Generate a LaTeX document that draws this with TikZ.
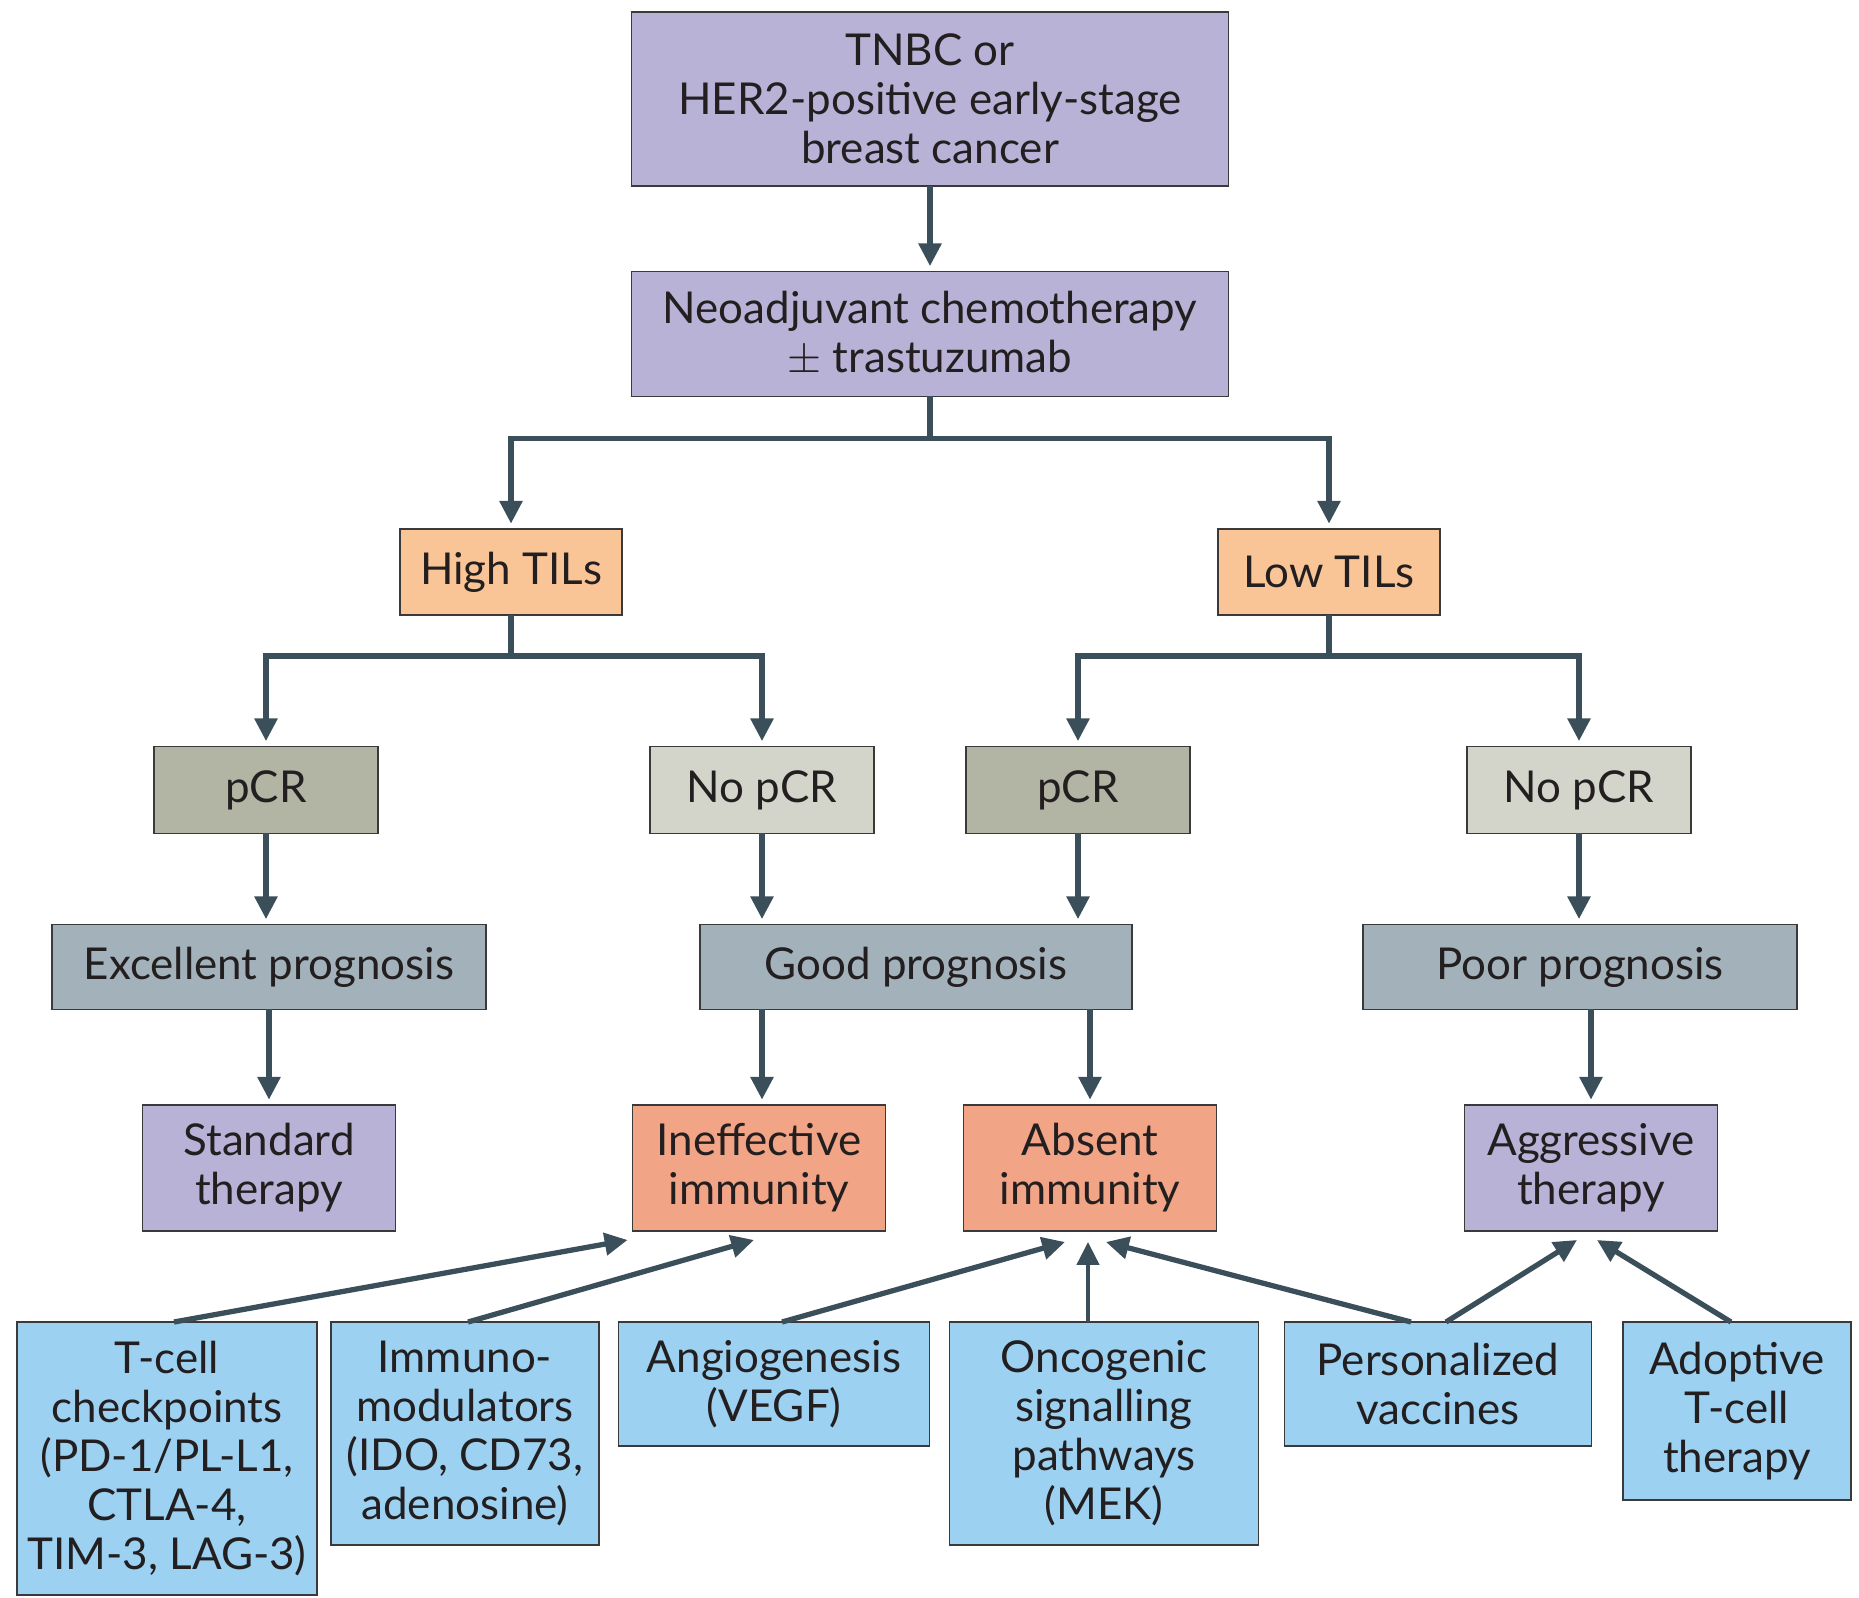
\documentclass[tikz,border=0pt]{standalone}
\usepackage{fontspec}
\setmainfont{Lato}
\usetikzlibrary{arrows.meta,calc}
\definecolor{lilac}{HTML}{B8B3D6}
\definecolor{tils}{HTML}{F9C597}
\definecolor{pcrdark}{HTML}{B2B4A4}
\definecolor{pcrlight}{HTML}{D3D4CA}
\definecolor{progn}{HTML}{A3B1BB}
\definecolor{salmon}{HTML}{F2A486}
\definecolor{skyblue}{HTML}{9CD1F1}
\definecolor{arrowc}{HTML}{3B4F5B}
\definecolor{boxline}{HTML}{3A3A3A}
\definecolor{txt}{HTML}{231F20}

\begin{document}
\begin{tikzpicture}[x=0.02cm,y=-0.02cm,
	box/.style={draw=boxline,line width=0.8pt,inner sep=0,outer sep=0,align=center,text=txt,font=\fontsize{25}{27.9}\selectfont},
	arr/.style={draw=arrowc,line width=3.3pt,line join=miter,shorten >=3pt,-{Triangle[length=13pt,width=12.5pt]}},
	diag/.style={draw=arrowc,line width=3pt,-{Triangle[length=13pt,width=12.5pt]}}]
	\useasboundingbox (0,0) rectangle (1859,1598);
	\node[box,fill=lilac,minimum width=11.94cm,minimum height=3.48cm] (top) at (930,99) {TNBC or\\HER2-positive early-stage\\breast cancer};
	\node[box,fill=lilac,minimum width=11.94cm,minimum height=2.5cm] (neo) at (930,334) {Neoadjuvant chemotherapy\\$\pm$ trastuzumab};
	\node[box,fill=tils,minimum width=4.44cm,minimum height=1.72cm] (high) at (511,572) {High TILs};
	\node[box,fill=tils,minimum width=4.44cm,minimum height=1.72cm] (low) at (1329,572) {Low TILs};
	\node[box,fill=pcrdark,minimum width=4.48cm,minimum height=1.74cm] (pcrA) at (266,790) {pCR};
	\node[box,fill=pcrlight,minimum width=4.48cm,minimum height=1.74cm] (nopcrA) at (762,790) {No pCR};
	\node[box,fill=pcrdark,minimum width=4.48cm,minimum height=1.74cm] (pcrB) at (1078,790) {pCR};
	\node[box,fill=pcrlight,minimum width=4.48cm,minimum height=1.74cm] (nopcrB) at (1579,790) {No pCR};
	\node[box,fill=progn,minimum width=8.68cm,minimum height=1.7cm] (excel) at (269,967) {Excellent prognosis};
	\node[box,fill=progn,minimum width=8.64cm,minimum height=1.7cm] (good) at (916,967) {Good prognosis};
	\node[box,fill=progn,minimum width=8.68cm,minimum height=1.7cm] (poor) at (1580,967) {Poor prognosis};
	\node[box,fill=lilac,minimum width=5.06cm,minimum height=2.52cm] (std) at (269,1168) {Standard\\therapy};
	\node[box,fill=salmon,minimum width=5.06cm,minimum height=2.52cm] (ineff) at (759,1168) {Ineffective\\immunity};
	\node[box,fill=salmon,minimum width=5.06cm,minimum height=2.52cm] (absent) at (1090,1168) {Absent\\immunity};
	\node[box,fill=lilac,minimum width=5.06cm,minimum height=2.52cm] (aggr) at (1591,1168) {Aggressive\\therapy};
	\node[box,fill=skyblue,anchor=north,minimum width=6cm,minimum height=5.46cm] (tcell) at (167,1322) {T-cell\\checkpoints\\(PD-1/PL-L1,\\CTLA-4,\\TIM-3, LAG-3)};
	\node[box,fill=skyblue,anchor=north,minimum width=5.36cm,minimum height=4.46cm] (immuno) at (465,1322) {Immuno-\\modulators\\(IDO, CD73,\\adenosine)};
	\node[box,fill=skyblue,anchor=north,minimum width=6.22cm,minimum height=2.48cm] (angio) at (774,1322) {Angiogenesis\\(VEGF)};
	\node[box,fill=skyblue,anchor=north,minimum width=6.18cm,minimum height=4.46cm] (onco) at (1104,1322) {Oncogenic\\signalling\\pathways\\(MEK)};
	\node[box,fill=skyblue,anchor=north,minimum width=6.14cm,minimum height=2.48cm] (pers) at (1438,1322) {Personalized\\vaccines};
	\node[box,fill=skyblue,anchor=north,minimum width=4.56cm,minimum height=3.56cm] (adopt) at (1737,1322) {Adoptive\\T-cell\\therapy};
	\draw[arr] (top.south) -- (neo.north);
	\draw[arr] (neo.south) -- ++(0,42) -| (high.north);
	\draw[arr] (neo.south) -- ++(0,42) -| (low.north);
	\draw[arr] (high.south) -- ++(0,41) -| (pcrA.north);
	\draw[arr] (high.south) -- ++(0,41) -| (nopcrA.north);
	\draw[arr] (low.south) -- ++(0,41) -| (pcrB.north);
	\draw[arr] (low.south) -- ++(0,41) -| (nopcrB.north);
	\draw[arr] (pcrA.south) -- (pcrA.south |- excel.north);
	\draw[arr] (nopcrA.south) -- (nopcrA.south |- good.north);
	\draw[arr] (pcrB.south) -- (pcrB.south |- good.north);
	\draw[arr] (nopcrB.south) -- (nopcrB.south |- poor.north);
	\draw[arr] (excel.south) -- (excel.south |- std.north);
	\draw[arr] (nopcrA.south |- good.south) -- (nopcrA.south |- ineff.north);
	\draw[arr] (absent.north |- good.south) -- (absent.north);
	\draw[arr] (aggr.north |- poor.south) -- (aggr.north);
	\draw[diag] ($(tcell.north)+(7,0)$) -- ($(ineff.south west)+(-5,9)$);
	\draw[diag] ($(immuno.north)+(3,0)$) -- ($(ineff.south)+(-5,9)$);
	\draw[diag] ($(angio.north)+(8,0)$) -- ($(absent.south)+(-25,11)$);
	\draw[diag,line width=2.4pt] ($(onco.north)+(-16,0)$) -- ($(absent.south)+(-2,11)$);
	\draw[diag] ($(pers.north)+(-27,0)$) -- ($(absent.south)+(16,11)$);
	\draw[diag] ($(pers.north)+(8,0)$) -- ($(aggr.south)+(-14,9)$);
	\draw[diag] ($(adopt.north)+(-6,0)$) -- ($(aggr.south)+(6,9)$);
\end{tikzpicture}
\end{document}
